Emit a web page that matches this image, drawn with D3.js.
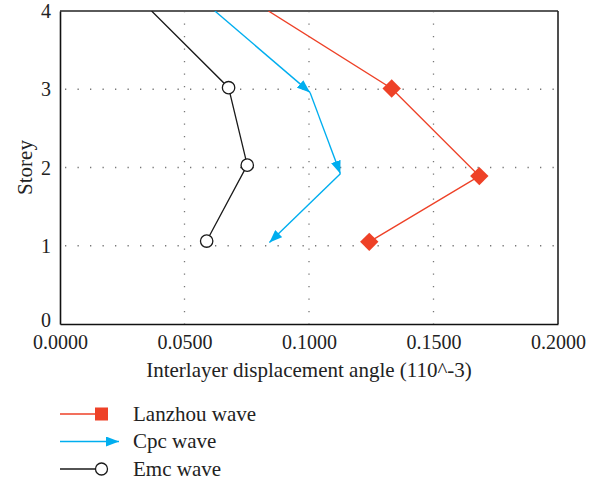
<!DOCTYPE html>
<html><head><meta charset="utf-8">
<script src="https://cdn.jsdelivr.net/npm/d3@7"></script>
<style>body{margin:0;background:#fff}</style>
</head><body>
<script>
const storeys = [4, 3, 2, 1];
const lanzhou = [0.0837, 0.1332, 0.1684, 0.1242];
const cpc = [0.0622, 0.1004, 0.1126, 0.0841];
const emc = [0.0368, 0.0677, 0.0752, 0.0589];
const lanzhouY = [4, 3.01, 1.89, 1.05];
const cpcY = [4, 2.96, 1.92, 1.04];
const emcY = [4, 3.02, 2.03, 1.06];
const xTicks = [0, 0.05, 0.1, 0.15, 0.2];
const yTicks = [0, 1, 2, 3, 4];
const seriesNames = ["Lanzhou wave", "Cpc wave", "Emc wave"];
const colors = ["#ee4127", "#00aeef", "#1a1a1a"];

const W = 604, H = 483;
const m = {l: 60, r: 558, t: 11, b: 324};
const svg = d3.select("body").append("svg").attr("width", W).attr("height", H);
const x = d3.scaleLinear().domain([0, 0.2]).range([m.l, m.r]);
const y = d3.scaleLinear().domain([0, 4]).range([m.b, m.t]);
const font = "'Liberation Serif', 'Times New Roman', serif";
const fs = 21, tfs = 20;

// markers
const defs = svg.append("defs");
defs.append("marker").attr("id", "arr").attr("viewBox", "0 0 13 10")
  .attr("refX", 13).attr("refY", 5).attr("markerWidth", 13).attr("markerHeight", 10)
  .attr("markerUnits", "userSpaceOnUse").attr("orient", "auto")
  .append("path").attr("d", "M0,0L13,5L0,10Z").attr("fill", colors[1]);
defs.append("clipPath").attr("id", "clip").append("rect")
  .attr("x", m.l).attr("y", m.t).attr("width", m.r - m.l).attr("height", m.b - m.t);

// grid
const g = svg.append("g");
g.selectAll(".gx").data(xTicks.slice(1, -1)).join("line")
  .attr("x1", d => x(d)).attr("x2", d => x(d)).attr("y1", m.t).attr("y2", m.b)
  .attr("stroke", "#777").attr("stroke-width", 1.3).attr("stroke-dasharray", "1.3,11.2");
g.selectAll(".gy").data(yTicks.slice(1, -1)).join("line")
  .attr("x1", m.l).attr("x2", m.r).attr("y1", d => y(d)).attr("y2", d => y(d))
  .attr("stroke", "#777").attr("stroke-width", 1.3).attr("stroke-dasharray", "1.3,11.2")
  .attr("stroke-dashoffset", -5);

// frame
svg.append("line").attr("x1", m.l).attr("x2", m.r).attr("y1", m.t).attr("y2", m.t)
  .attr("stroke", "#5a5a5a").attr("stroke-width", 2);
svg.append("line").attr("x1", m.r).attr("x2", m.r).attr("y1", m.t).attr("y2", m.b)
  .attr("stroke", "#222").attr("stroke-width", 1.6);

// axes
const xAxis = svg.append("g").attr("transform", `translate(0,${m.b})`)
  .call(d3.axisBottom(x).tickValues(xTicks).tickFormat(d3.format(".4f")).tickSize(0).tickPadding(11));
const yAxis = svg.append("g").attr("transform", `translate(${m.l},0)`)
  .call(d3.axisLeft(y).tickValues(yTicks).tickFormat(d3.format("d")).tickSize(0).tickPadding(9));
[xAxis, yAxis].forEach(a => {
  a.select(".domain").attr("stroke", "#111").attr("stroke-width", 1.6);
  a.selectAll("text").attr("font-family", font).attr("font-size", tfs).attr("fill", "#222");
});
yAxis.selectAll("text").attr("dy", d => d === 0 ? "0.12em" : "0.33em");

svg.append("text").attr("x", (m.l + m.r) / 2).attr("y", 377).attr("text-anchor", "middle")
  .attr("font-family", font).attr("font-size", fs).attr("fill", "#222")
  .text("Interlayer displacement angle (110^-3)");
svg.append("text").attr("transform", `translate(32,${(m.t + m.b) / 2}) rotate(-90)`)
  .attr("text-anchor", "middle").attr("font-family", font).attr("font-size", fs).attr("fill", "#222")
  .text("Storey");

// series
const plot = svg.append("g").attr("clip-path", "url(#clip)");
const line = d3.line().x(d => x(d[0])).y(d => y(d[1]));
const lzPts = lanzhou.map((v, i) => [v, lanzhouY[i]]);
const cpPts = cpc.map((v, i) => [v, cpcY[i]]);
const emPts = emc.map((v, i) => [v, emcY[i]]);

plot.append("path").attr("d", line(lzPts)).attr("fill", "none").attr("stroke", colors[0]).attr("stroke-width", 1.4);
svg.selectAll(".lz").data(lzPts.filter(p => p[1] < 4)).join("rect")
  .attr("x", -6.5).attr("y", -6.5).attr("width", 13).attr("height", 13)
  .attr("transform", d => `translate(${x(d[0])},${y(d[1])}) rotate(45)`)
  .attr("fill", colors[0]);

d3.pairs(cpPts).forEach(([a, b]) => {
  plot.append("path").attr("d", line([a, b])).attr("fill", "none")
    .attr("stroke", colors[1]).attr("stroke-width", 1.4).attr("marker-end", "url(#arr)");
});

plot.append("path").attr("d", line(emPts)).attr("fill", "none").attr("stroke", colors[2]).attr("stroke-width", 1.3);
svg.selectAll(".em").data(emPts.filter(p => p[1] < 4)).join("circle")
  .attr("cx", d => x(d[0])).attr("cy", d => y(d[1])).attr("r", 6.2)
  .attr("fill", "#fff").attr("stroke", colors[2]).attr("stroke-width", 1.3);

// legend
const legY = [414, 441.5, 469];
const leg = svg.append("g");
seriesNames.forEach((n, i) => {
  const yy = legY[i];
  leg.append("text").attr("x", 133).attr("y", yy).attr("dy", "0.33em")
    .attr("font-family", font).attr("font-size", fs).attr("fill", "#222").text(n);
});
leg.append("line").attr("x1", 60).attr("x2", 100).attr("y1", legY[0]).attr("y2", legY[0]).attr("stroke", colors[0]).attr("stroke-width", 1.4);
leg.append("rect").attr("x", 95).attr("y", legY[0] - 6.5).attr("width", 13).attr("height", 13).attr("fill", colors[0]);
leg.append("line").attr("x1", 60).attr("x2", 119).attr("y1", legY[1]).attr("y2", legY[1]).attr("stroke", colors[1]).attr("stroke-width", 1.4).attr("marker-end", "url(#arr)");
leg.append("line").attr("x1", 60).attr("x2", 96).attr("y1", legY[2]).attr("y2", legY[2]).attr("stroke", colors[2]).attr("stroke-width", 1.4);
leg.append("circle").attr("cx", 101.5).attr("cy", legY[2]).attr("r", 6).attr("fill", "#fff").attr("stroke", colors[2]).attr("stroke-width", 1.3);
</script>
</body></html>
